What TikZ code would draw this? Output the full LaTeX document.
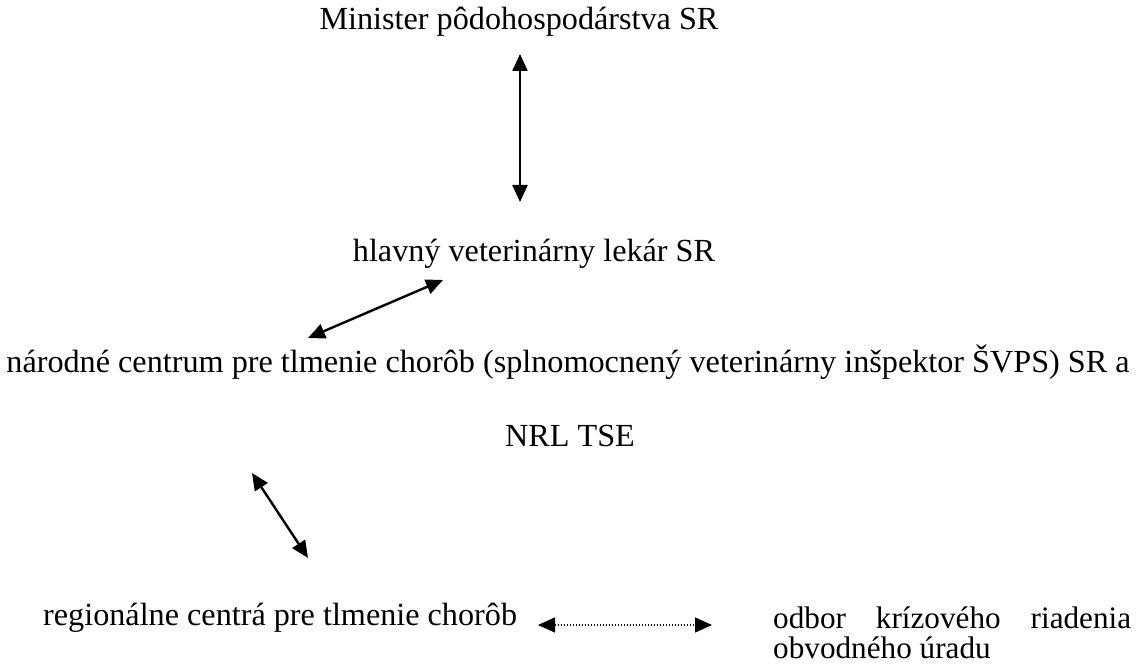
\documentclass[tikz,border=0pt]{standalone}
\usepackage{fontspec}
\setmainfont{Liberation Serif}
\usetikzlibrary{arrows.meta}

\begin{document}
\begin{tikzpicture}[x=0.5pt,y=-0.5pt,<->,>={Triangle[length=8.5pt,width=7.5pt]},
                    line width=1.2pt]
  \tikzstyle{every node}=[font=\fontsize{16.1}{14.2}\selectfont,inner sep=0pt]
  \tikzstyle{dots}=[line width=0.6pt,dash pattern=on 0.6pt off 0.9pt]

  \useasboundingbox (0,0) rectangle (1136,668);

  \node (min) at (519,22)  {Minister pôdohospodárstva SR};
  \node (hvl) at (534,254) {hlavný veterinárny lekár SR};
  \node (nc)  at (568,362) {národné centrum pre tlmenie chorôb (splnomocnený veterinárny inšpektor ŠVPS) SR a};
  \node (nrl) at (570,436) {NRL TSE};
  \node[anchor=west] (rc) at (42,618) {regionálne centrá pre tlmenie chorôb};
  \node[anchor=north west,text width=179pt,align=justify,
        font=\fontsize{15.6}{14.8}\selectfont] (okr) at (772,606)
    {odbor krízového riadenia\linebreak obvodného úradu};

  % arrow ends
  \coordinate (v1) at (520,54);
  \coordinate (v2) at (520,202);
  \coordinate (d1) at (443,280);
  \coordinate (d2) at (308,338);
  \coordinate (d3) at (252,473);
  \coordinate (d4) at (308,558);
  \coordinate (h1) at (538,625);
  \coordinate (h2) at (712,625);

  \path (v1) edge (v2)
        (d1) edge (d2)
        (d3) edge (d4)
        (h1) edge [dots] (h2);
\end{tikzpicture}
\end{document}
